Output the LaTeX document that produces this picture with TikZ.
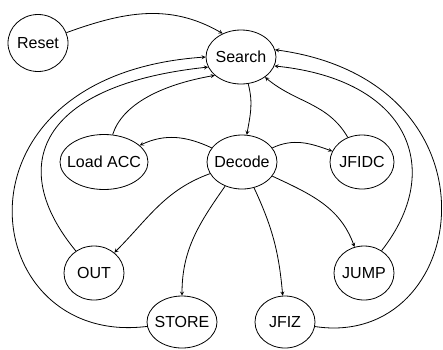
\documentclass[tikz,border=0pt]{standalone}
\usepackage{fontspec}
\setsansfont{Liberation Sans}
\usepackage{tikz}
\usetikzlibrary{shapes.geometric,arrows}
\tikzstyle{state} = [ellipse, draw=black, line width=0.8pt, inner sep=0pt, minimum width=64pt, minimum height=54pt, font=\sffamily\fontsize{16}{19}\selectfont]
\tikzstyle{arrow}=[line width=0.8pt,->,>=stealth]
\newcommand{\statetext}[1]{\makebox[0pt]{#1}}

\begin{document}
\begin{tikzpicture}[x=1pt,y=1pt]
\useasboundingbox (0,0) rectangle (443,-349);
\node(reset)[state,minimum width=60pt,minimum height=57pt] at (38,-43) {\statetext{Reset}};
\node(search)[state,minimum width=70pt] at (241,-57) {\statetext{Search}};
\node(decode)[state,minimum width=70pt] at (242,-162) {\statetext{Decode}};
\node(loadacc)[state,minimum width=88pt,minimum height=55pt] at (104,-162) {\statetext{Load ACC}};
\node(jfidc)[state] at (362,-162) {\statetext{JFIDC}};
\node(out)[state,minimum width=60pt] at (94,-273) {\statetext{OUT}};
\node(store)[state,minimum width=70pt,minimum height=52pt] at (182,-322) {\statetext{STORE}};
\node(jfiz)[state,minimum width=60pt,minimum height=52pt] at (285,-322) {\statetext{JFIZ}};
\node(jump)[state,minimum width=60pt] at (364,-273) {\statetext{JUMP}};

% into Search
\draw[arrow](reset) to[out=20,in=150] (search.128);
\draw[arrow](loadacc) .. controls (122,-105) and (160,-85) .. (search.215);
\draw[arrow](out) .. controls (5,-165) and (40,-85) .. (search.197);
\draw[arrow](store) .. controls (-24,-348) and (-60,-75) .. (search.180);
\draw[arrow](jfidc) to[out=120,in=-40] (search);
\draw[arrow](jump) .. controls (445,-170) and (410,-80) .. (search.-15);
\draw[arrow](jfiz) .. controls (470,-350) and (510,-82) .. (search.12);

% out of Search and Decode
\draw[arrow](search) to[out=-75,in=80] (decode);
\draw[arrow](decode) to[out=155,in=25] (loadacc);
\draw[arrow](decode) to[out=25,in=160] (jfidc);
\draw[arrow](decode) to[out=200,in=45] (out);
\draw[arrow](decode) to[out=235,in=90] (store);
\draw[arrow](decode) to[out=-65,in=95] (jfiz);
\draw[arrow](decode) to[out=-25,in=110] (jump);
\end{tikzpicture}
\end{document}
